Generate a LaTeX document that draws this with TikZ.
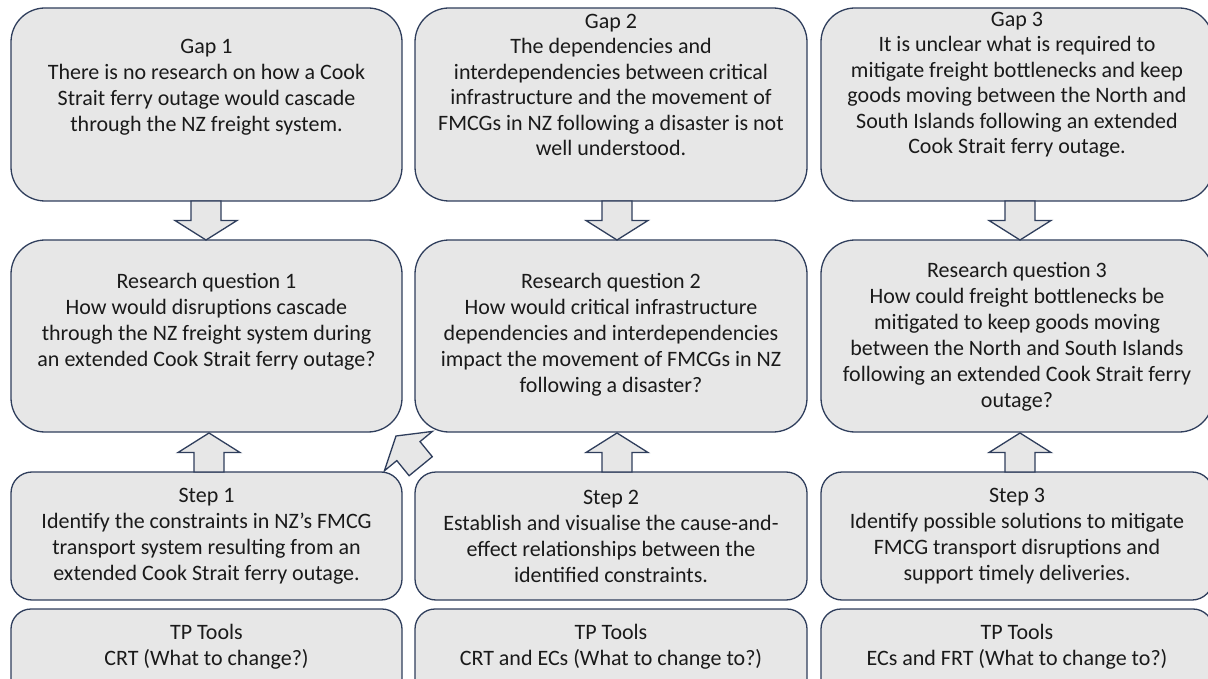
\documentclass[tikz,border=0pt]{standalone}
\usepackage{fontspec}
\setmainfont{Carlito}
\definecolor{boxfill}{HTML}{E7E7E7}
\definecolor{boxline}{HTML}{2F3E5C}
\definecolor{txt}{HTML}{1A1A1A}
\tikzset{
  panel/.style={draw=boxline, fill=boxfill, line width=1.3pt, inner sep=0pt, outer sep=0pt},
  bigbox/.style={panel, rounded corners=34pt},
  stepbox/.style={panel, rounded corners=21pt},
  toolbox/.style={panel, rounded corners=20pt},
  label/.style={align=center, text=txt, inner sep=0pt,
    font=\fontsize{22}{26}\selectfont},
  tightlabel/.style={label, font=\fontsize{22}{25.5}\selectfont},
  blockarrow/.style={draw=boxline, fill=boxfill, line width=1.3pt, line join=miter},
  pics/vblock/.style={code={
    \draw[blockarrow] (-15,0) -- (-15,19.5) -- (-31,19.5) -- (0,39) -- (31,19.5) -- (15,19.5) -- (15,0) -- cycle;
  }}
}
\begin{document}
\begin{tikzpicture}[x=1pt, y=-1pt]
\useasboundingbox (0,0) rectangle (1208,679);
\clip (0,0) rectangle (1208,679);

% column boxes
\node[bigbox, minimum width=391pt, minimum height=193pt] (gap1) at (206.5,104.5) {};
\node[bigbox, minimum width=392pt, minimum height=193pt] (gap2) at (611,104.5) {};
\node[bigbox, minimum width=392pt, minimum height=193pt] (gap3) at (1017,104.5) {};

\node[bigbox, minimum width=391pt, minimum height=192pt] (rq1) at (206.5,336) {};
\node[bigbox, minimum width=392pt, minimum height=192pt] (rq2) at (611,336) {};
\node[bigbox, minimum width=392pt, minimum height=192pt] (rq3) at (1017,336) {};

\node[stepbox, minimum width=391pt, minimum height=128pt] (step1) at (206.5,536) {};
\node[stepbox, minimum width=392pt, minimum height=128pt] (step2) at (611,536) {};
\node[stepbox, minimum width=392pt, minimum height=128pt] (step3) at (1017,536) {};

\node[toolbox, minimum width=391pt, minimum height=120pt] (tp1) at (206.5,669) {};
\node[toolbox, minimum width=392pt, minimum height=120pt] (tp2) at (611,669) {};
\node[toolbox, minimum width=392pt, minimum height=120pt] (tp3) at (1017,669) {};

% texts
\node[label] (gap1t) at (206.5,87) {Gap 1\\There is no research on how a Cook\\Strait ferry outage would cascade\\through the NZ freight system.};
\node[tightlabel] (gap2t) at (611,85) {Gap 2\\The dependencies and\\interdependencies between critical\\infrastructure and the movement of\\FMCGs in NZ following a disaster is not\\well understood.};
\node[tightlabel] (gap3t) at (1017,85) {Gap 3\\It is unclear what is required to\\mitigate freight bottlenecks and keep\\goods moving between the North and\\South Islands following an extended\\Cook Strait ferry outage.};

\node[label] (rq1t) at (206.5,322) {Research question 1\\How would disruptions cascade\\through the NZ freight system during\\an extended Cook Strait ferry outage?};
\node[label] (rq2t) at (611,335) {Research question 2\\How would critical infrastructure\\dependencies and interdependencies\\impact the movement of FMCGs in NZ\\following a disaster?};
\node[label] (rq3t) at (1017,337) {Research question 3\\How could freight bottlenecks be\\mitigated to keep goods moving\\between the North and South Islands\\following an extended Cook Strait ferry\\outage?};

\node[label] (step1t) at (206.5,536) {Step 1\\Identify the constraints in NZ’s FMCG\\transport system resulting from an\\extended Cook Strait ferry outage.};
\node[label] (step2t) at (611,536) {Step 2\\Establish and visualise the cause-and-\\effect relationships between the\\identified constraints.};
\node[label] (step3t) at (1017,536) {Step 3\\Identify possible solutions to mitigate\\FMCG transport disruptions and\\support timely deliveries.};

\node[label] (tp1t) at (206.5,647) {TP Tools\\CRT (What to change?)};
\node[label] (tp2t) at (611,647) {TP Tools\\CRT and ECs (What to change to?)};
\node[label] (tp3t) at (1017,647) {TP Tools\\ECs and FRT (What to change to?)};

% block arrows: gaps down to questions
\pic at (206,201) {vblock};
\pic at (617,201) {vblock};
\pic at (1020,201) {vblock};
% block arrows: steps up to questions
\pic[yscale=-1] at (209,472) {vblock};
\pic[yscale=-1] at (617,472) {vblock};
\pic[yscale=-1] at (1020,472) {vblock};
% slanted block arrow from step 2 towards question 1
\draw[blockarrow] (396,436) -- (432.4,431.4) -- (420.0,441.6) -- (432.3,456.7)
  -- (409.1,475.7) -- (396.8,460.6) -- (384.4,470.8) -- cycle;
\end{tikzpicture}
\end{document}
